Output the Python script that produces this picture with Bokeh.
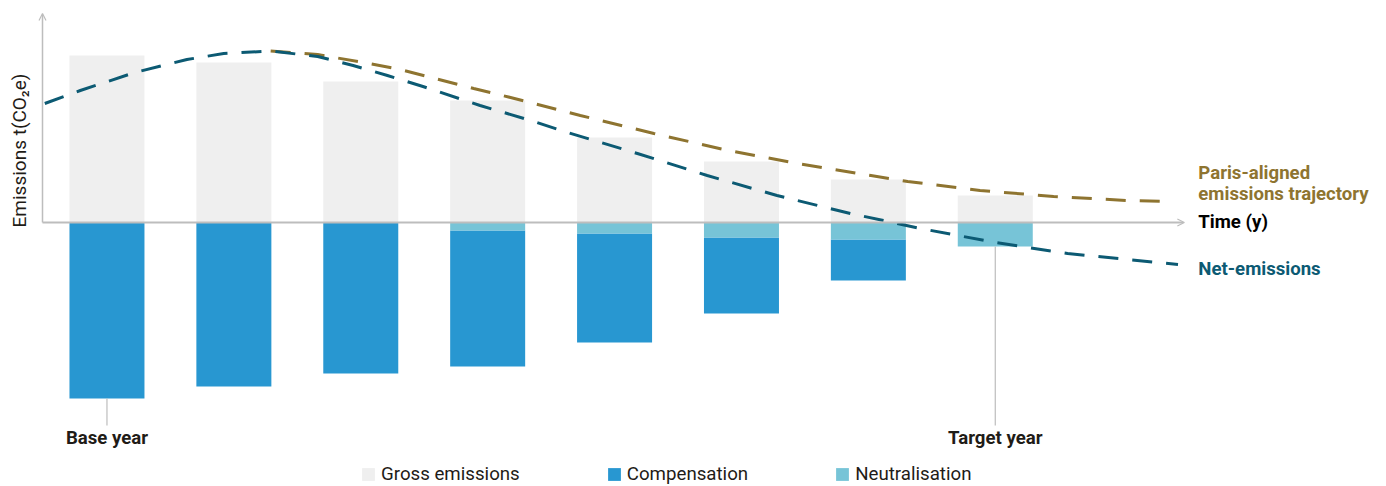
from bokeh.plotting import figure
from bokeh.models import Range1d, Arrow, OpenHead, Legend, LegendItem
from bokeh.core.properties import value
from bokeh.embed import file_html
from bokeh.resources import INLINE
import math

# ---------------- data ----------------
periods = [0, 1, 2, 3, 4, 5, 6, 7]
gross_emissions = [16.7, 16.0, 14.1, 12.2, 8.5, 6.1, 4.3, 2.7]
neutralisation = [0.0, 0.0, 0.0, 0.8, 1.1, 1.5, 1.7, 2.4]
compensation = [17.6, 16.4, 15.1, 13.6, 10.9, 7.6, 4.1, 0.0]

net_x = [-0.49, -0.21, 0.22, 0.63, 0.92, 1.29, 1.66, 1.94, 2.21, 2.49, 2.94, 3.34,
         3.63, 4.18, 4.73, 5.28, 5.86, 6.41, 7.00, 7.57, 8.44]
net_y = [11.9, 13.2, 15.0, 16.3, 16.9, 17.15, 16.6, 15.7, 14.7, 13.6, 11.7, 10.2,
         9.0, 6.9, 4.7, 2.7, 0.9, -0.6, -2.0, -3.1, -4.2]

paris_x = [1.29, 1.66, 2.02, 2.31, 2.89, 3.18, 3.73, 4.31, 4.86, 5.44, 6.02, 6.31,
           6.88, 7.46, 8.04, 8.36]
paris_y = [17.15, 16.8, 16.0, 15.3, 13.4, 12.5, 10.7, 8.9, 7.3, 5.9, 4.7, 4.1,
           3.2, 2.6, 2.2, 2.1]

milestone_labels = ["Base year", "Target year"]
milestone_index = [0, 7]

legend_labels = ["Gross emissions", "Compensation", "Neutralisation"]
y_label = "Emissions t(CO\u2082e)"
x_label = "Time (y)"
paris_label = ["Paris-aligned", "emissions trajectory"]
net_label = "Net-emissions"

# ---------------- styles ----------------
C_GROSS = "#efefef"
C_COMP = "#2897d1"
C_NEUT = "#77c4d7"
C_NET = "#0c5a73"
C_PARIS = "#8e7430"
C_AXIS = "#bdbdbd"
C_TEXT = "#1f1c17"
FONT = value("Roboto")
BOLD_SIZE = "18.6px"

W, H = 1386, 486
p = figure(width=W, height=H, output_backend="svg", toolbar_location=None,
           x_range=Range1d(-0.839, 10.083), y_range=Range1d(-26.4, 22.2),
           min_border=0, x_axis_type=None, y_axis_type=None,
           outline_line_color=None, background_fill_color="white")
p.xgrid.visible = False
p.ygrid.visible = False

bar_w = 0.591
comp_top = [-n for n in neutralisation]
comp_bottom = [-(n + c) for n, c in zip(neutralisation, compensation)]
neut_bottom = [-n for n in neutralisation]

r_gross = p.vbar(x=periods, top=gross_emissions, bottom=0, width=bar_w,
                 fill_color=C_GROSS, line_color=None)
r_comp = p.vbar(x=periods, top=comp_top, bottom=comp_bottom, width=bar_w,
                fill_color=C_COMP, line_color=None)
r_neut = p.vbar(x=periods, top=0, bottom=neut_bottom, width=bar_w,
                fill_color=C_NEUT, line_color=None)

# milestone ticks
ax_left = -0.508
ax_right = 8.49
tick_end = -20.3
for idx, lab in zip(milestone_index, milestone_labels):
    bottom = comp_bottom[idx]
    p.segment(x0=[idx], y0=[bottom], x1=[idx], y1=[tick_end], line_color=C_AXIS, line_width=1.2)
    p.text(x=[idx], y=[-21.5], text=[lab], text_font=FONT, text_font_size=BOLD_SIZE,
           text_font_style="bold", text_color=C_TEXT, text_align="center", text_baseline="middle")

# trajectories
p.line(paris_x, paris_y, line_color=C_PARIS, line_width=3, line_dash="20 14")
p.line(net_x, net_y, line_color=C_NET, line_width=3, line_dash="20 14")

# axes with arrows
p.add_layout(Arrow(end=OpenHead(size=7, line_color=C_AXIS, line_width=1.2),
                   x_start=ax_left, y_start=0, x_end=ax_left, y_end=20.9,
                   line_color=C_AXIS, line_width=1.5))
p.add_layout(Arrow(end=OpenHead(size=7, line_color=C_AXIS, line_width=1.2),
                   x_start=ax_left, y_start=0, x_end=ax_right, y_end=0,
                   line_color=C_AXIS, line_width=2))

# axis labels
p.text(x=[-0.69], y=[7.2], text=[y_label], angle=math.pi / 2, text_font=FONT,
       text_font_size="19px", text_color=C_TEXT, text_align="center", text_baseline="middle")
lx = 8.60
p.text(x=[lx], y=[0.1], text=[x_label], text_font=FONT, text_font_size=BOLD_SIZE,
       text_font_style="bold", text_color="#000000", text_align="left", text_baseline="middle")
p.text(x=[lx, lx], y=[5.0, 2.85], text=paris_label, text_font=FONT, text_font_size=BOLD_SIZE,
       text_font_style="bold", text_color=C_PARIS, text_align="left", text_baseline="middle")
p.text(x=[lx], y=[-4.6], text=[net_label], text_font=FONT, text_font_size=BOLD_SIZE,
       text_font_style="bold", text_color=C_NET, text_align="left", text_baseline="middle")

legend = Legend(items=[LegendItem(label=legend_labels[0], renderers=[r_gross]),
                       LegendItem(label=legend_labels[1], renderers=[r_comp]),
                       LegendItem(label=legend_labels[2], renderers=[r_neut])],
                orientation="horizontal", location=(360, 1), padding=0, margin=0,
                spacing=86, glyph_width=16, glyph_height=16, label_height=16,
                label_standoff=5, label_text_font="Roboto", label_text_font_size="18.7px",
                label_text_color=C_TEXT, border_line_alpha=0, background_fill_alpha=0)
p.add_layout(legend, "center")

open("out.html", "w").write(file_html(p, INLINE))
